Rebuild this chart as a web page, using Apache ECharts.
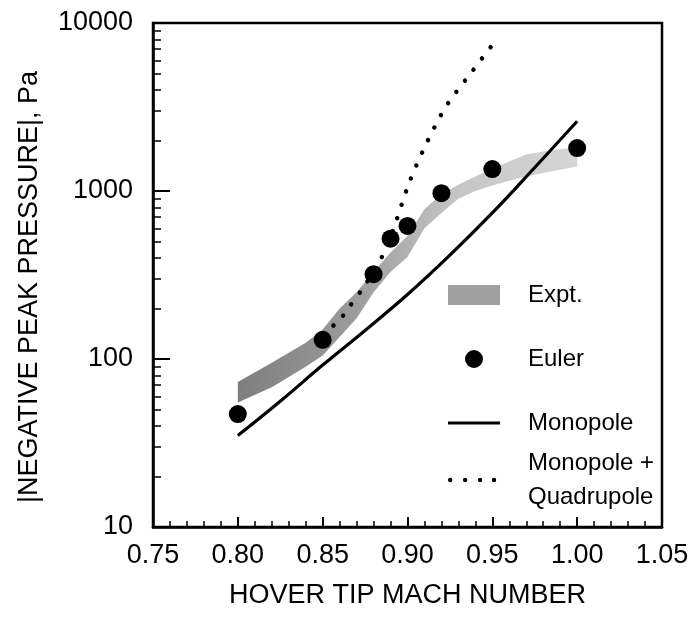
<!DOCTYPE html>
<html>
<head>
<meta charset="utf-8">
<script src="https://cdn.jsdelivr.net/npm/echarts@6/dist/echarts.min.js"></script>
<style>
  html, body { margin: 0; background: #fff; }
  #chart { width: 697px; height: 620px; }
</style>
</head>
<body>
<div id="chart"></div>
<script>
  // values
  const machEuler = [0.80, 0.85, 0.88, 0.89, 0.90, 0.92, 0.95, 1.00];
  const pressureEuler = [47, 130, 320, 520, 620, 970, 1350, 1800];

  const machMonopole = [0.80, 0.825, 0.85, 0.875, 0.90, 0.925, 0.95, 0.975, 1.00];
  const pressureMonopole = [35, 56, 92, 148, 242, 415, 740, 1380, 2600];

  const machQuad = [0.85, 0.86, 0.865, 0.875, 0.887, 0.893, 0.901, 0.911, 0.923, 0.938, 0.953];
  const pressureQuad = [140, 171, 200, 276, 445, 648, 1120, 1905, 3220, 5130, 8110];

  const machExpt = [0.80, 0.82, 0.84, 0.85, 0.86, 0.87, 0.88, 0.89, 0.90, 0.91, 0.92, 0.93, 0.94, 0.95, 0.96, 0.97, 0.98, 0.99, 1.00];
  const exptLow = [55, 68, 90, 105, 135, 175, 250, 330, 405, 600, 740, 900, 1000, 1080, 1150, 1220, 1280, 1340, 1400];
  const exptHigh = [73, 95, 125, 150, 200, 250, 330, 430, 540, 780, 960, 1090, 1220, 1360, 1500, 1650, 1720, 1770, 1820];

  const font = '"Liberation Sans", Arial, Helvetica, sans-serif';
  const chart = echarts.init(document.getElementById('chart'), null, { renderer: 'canvas' });

  // legend icons: two invisible corner specks keep the 52x20 box, then the visible mark
  const iconBox = 'M0,0L0.01,0L0,0.01Z M52,20L51.99,20L52,19.99Z ';
  const iconLine = 'path://' + iconBox + 'M0,8.4H52V11.6H0Z';
  const iconDot = 'path://' + iconBox + 'M17,10a9,9 0 1,0 18,0a9,9 0 1,0 -18,0Z';
  const iconDots = 'path://' + iconBox + [2, 17, 32, 46].map((x) => `M${x - 2.2},10a2.2,2.2 0 1,0 4.4,0a2.2,2.2 0 1,0 -4.4,0Z`).join(' ');

  function renderBand(params, api) {
    if (params.dataIndex !== 0) return;
    const upper = machExpt.map((m, i) => api.coord([m, exptHigh[i]]));
    const lower = machExpt.map((m, i) => api.coord([m, exptLow[i]])).reverse();
    return {
      type: 'polygon',
      shape: { points: upper.concat(lower) },
      style: {
        fill: new echarts.graphic.LinearGradient(0, 0, 1, 0, [
          { offset: 0, color: '#7e7e7e' },
          { offset: 0.35, color: '#9c9c9c' },
          { offset: 0.65, color: '#c6c6c6' },
          { offset: 1, color: '#d6d6d6' }
        ])
      }
    };
  }

  const legendText = { color: '#000', fontFamily: font, fontSize: 24, padding: [0, 0, 0, 23] };

  chart.setOption({
    animation: false,
    backgroundColor: '#fff',
    grid: { left: 153, right: 35, top: 23, bottom: 93, show: true, borderColor: '#000', borderWidth: 2.5 },
    legend: [
      {
        orient: 'vertical', left: 448, top: 283, padding: 0,
        itemWidth: 52, itemHeight: 20, itemGap: 40,
        selectedMode: false,
        textStyle: Object.assign({ lineHeight: 20 }, legendText),
        data: [
          { name: 'Expt.', icon: 'rect' },
          { name: 'Euler', icon: iconDot },
          { name: 'Monopole', icon: iconLine }
        ]
      },
      {
        orient: 'vertical', left: 448, top: 446, padding: 0,
        itemWidth: 52, itemHeight: 20,
        selectedMode: false,
        textStyle: Object.assign({ lineHeight: 34 }, legendText),
        data: [{ name: 'Monopole +\nQuadrupole', icon: iconDots }]
      }
    ],
    xAxis: {
      type: 'value',
      min: 0.75,
      max: 1.05,
      interval: 0.05,
      name: 'HOVER TIP MACH NUMBER',
      nameLocation: 'middle',
      nameGap: 55,
      nameTextStyle: { color: '#000', fontFamily: font, fontSize: 27 },
      axisLine: { lineStyle: { color: '#000', width: 2.5 } },
      axisTick: { inside: true, length: 10, lineStyle: { color: '#000', width: 2 } },
      minorTick: { show: true, splitNumber: 5, length: 6, lineStyle: { color: '#000', width: 1.5 } },
      splitLine: { show: false },
      axisLabel: { color: '#000', fontFamily: font, fontSize: 27, margin: 15, formatter: (v) => v.toFixed(2) }
    },
    yAxis: {
      type: 'log',
      logBase: 10,
      min: 10,
      max: 10000,
      name: '|NEGATIVE PEAK PRESSURE|, Pa',
      nameLocation: 'middle',
      nameRotate: 90,
      nameGap: 110,
      nameTextStyle: { color: '#000', fontFamily: font, fontSize: 27, padding: [0, 24, 0, 0] },
      axisLine: { lineStyle: { color: '#000', width: 2.5 } },
      axisTick: { inside: true, length: 17, lineStyle: { color: '#000', width: 2 } },
      minorTick: { show: true, splitNumber: 9, length: 8, lineStyle: { color: '#000', width: 1.5 } },
      splitLine: { show: false },
      axisLabel: { color: '#000', fontFamily: font, fontSize: 27, margin: 20, formatter: (v) => String(Math.round(v)) }
    },
    series: [
      {
        name: 'Expt.',
        type: 'custom',
        z: 1,
        itemStyle: { color: '#a0a0a0' },
        encode: { x: 0, y: [1, 2] },
        data: machExpt.map((m, i) => [m, exptLow[i], exptHigh[i]]),
        renderItem: renderBand,
        silent: true
      },
      {
        name: 'Monopole',
        type: 'line',
        z: 2,
        symbol: 'none',
        smooth: 0.4,
        lineStyle: { color: '#000', width: 3.2 },
        itemStyle: { color: '#000' },
        data: machMonopole.map((m, i) => [m, pressureMonopole[i]])
      },
      {
        name: 'Monopole +\nQuadrupole',
        type: 'line',
        z: 3,
        symbol: 'none',
        smooth: 0.3,
        lineStyle: { color: '#000', width: 4.5, type: [0.01, 14], cap: 'round' },
        itemStyle: { color: '#000' },
        data: machQuad.map((m, i) => [m, pressureQuad[i]])
      },
      {
        name: 'Euler',
        type: 'scatter',
        z: 4,
        symbol: 'circle',
        symbolSize: 18,
        itemStyle: { color: '#000', opacity: 1 },
        data: machEuler.map((m, i) => [m, pressureEuler[i]])
      }
    ]
  });

  window.addEventListener('resize', () => chart.resize());
</script>
</body>
</html>
